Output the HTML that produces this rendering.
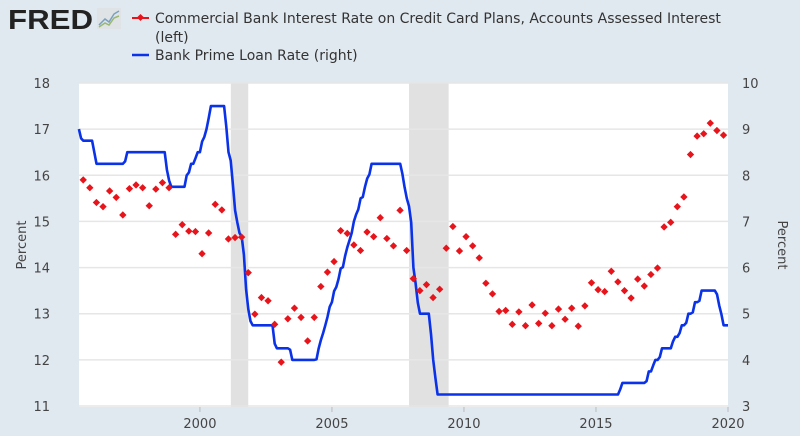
<!DOCTYPE html>
<html><head><meta charset="utf-8"><style>
body{margin:0;background:#e1e9f0;width:800px;height:436px;overflow:hidden;font-family:"DejaVu Sans","Liberation Sans",sans-serif}
svg{display:block}
</style></head><body>
<svg id="chart" width="800" height="436">
<rect x="0" y="0" width="800" height="436" fill="#e1e9f0"/>
<g>
<text x="8" y="29" font-family="Liberation Sans, sans-serif" font-weight="bold" font-size="28" fill="#222" textLength="85" lengthAdjust="spacingAndGlyphs">FRED</text>
<rect x="97" y="8" width="24" height="21" fill="#dfe3e6"/>
<polyline points="99,25 105,19 109,22 114,14 119,11" fill="none" stroke="#7aa0c0" stroke-width="1.5"/>
<polyline points="99,27 105,23 109,25 114,18 119,16" fill="none" stroke="#9ab870" stroke-width="1.5"/>
</g>
<g>
<line x1="132" y1="18" x2="149" y2="18" stroke="#e8141b" stroke-width="2"/>
<rect x="138" y="15" width="5" height="5" fill="#e8141b" transform="rotate(45 140.5 17.5)"/>
<text x="155" y="23" font-size="14" fill="#333">Commercial Bank Interest Rate on Credit Card Plans, Accounts Assessed Interest</text>
<text x="155" y="42" font-size="14" fill="#333">(left)</text>
<line x1="132" y1="55" x2="149" y2="55" stroke="#0a32e8" stroke-width="2.5"/>
<text x="155" y="60" font-size="14" fill="#333">Bank Prime Loan Rate (right)</text>
</g>
<rect x="79" y="83" width="649" height="324" fill="#fff"/>
<g id="rec"></g>
<g id="grid"></g>
<g id="axes"></g>
<text transform="translate(26,245) rotate(-90)" text-anchor="middle" font-size="13" fill="#444">Percent</text>
<text transform="translate(778,245) rotate(90)" text-anchor="middle" font-size="13" fill="#444">Percent</text>
<g id="series"></g>
</svg>
<script>
const ccStart = 1995.58;
const ccStep = 0.25;
const ccValues = [15.90,15.73,15.41,15.32,15.66,15.52,15.14,15.71,15.79,15.73,15.34,15.70,15.84,15.73,14.72,14.93,14.79,14.78,14.30,14.75,15.37,15.25,14.62,14.65,14.66,13.89,12.99,13.35,13.28,12.77,11.95,12.89,13.12,12.92,12.41,12.92,13.59,13.90,
14.13,14.80,14.74,14.49,14.37,14.77,14.67,15.08,14.63,14.47,15.24,14.37,13.76,13.50,13.63,13.35,13.53,14.42,14.89,14.36,14.67,14.47,14.21,13.66,13.43,13.05,13.07,12.77,13.04,12.74,13.19,12.79,13.01,12.74,13.10,12.88,13.12,12.73,13.17,13.67,
13.52,13.48,13.92,13.69,13.50,13.34,13.75,13.60,13.85,13.99,14.88,14.98,15.32,15.53,16.45,16.85,16.90,17.13,16.97,16.87];
const primeStart = 1995 + 5/12;
const primeValues = [9.00,8.80,8.75,8.75,8.75,8.75,8.75,
8.50,8.25,8.25,8.25,8.25,8.25,8.25,8.25,8.25,8.25,8.25,8.25,
8.25,8.25,8.30,8.50,8.50,8.50,8.50,8.50,8.50,8.50,8.50,8.50,
8.50,8.50,8.50,8.50,8.50,8.50,8.50,8.50,8.50,8.12,7.89,7.75,
7.75,7.75,7.75,7.75,7.75,7.75,8.00,8.06,8.25,8.25,8.37,8.50,
8.50,8.73,8.83,9.00,9.24,9.50,9.50,9.50,9.50,9.50,9.50,9.50,
9.05,8.50,8.32,7.80,7.24,6.98,6.75,6.67,6.28,5.53,5.10,4.84,
4.75,4.75,4.75,4.75,4.75,4.75,4.75,4.75,4.75,4.75,4.35,4.25,
4.25,4.25,4.25,4.25,4.25,4.22,4.00,4.00,4.00,4.00,4.00,4.00,
4.00,4.00,4.00,4.00,4.00,4.01,4.25,4.43,4.58,4.75,4.93,5.15,
5.25,5.49,5.58,5.75,5.98,6.01,6.25,6.44,6.59,6.75,7.00,7.15,
7.26,7.50,7.53,7.75,7.93,8.02,8.25,8.25,8.25,8.25,8.25,8.25,
8.25,8.25,8.25,8.25,8.25,8.25,8.25,8.25,8.03,7.74,7.50,7.33,
6.98,6.00,5.66,5.24,5.00,5.00,5.00,5.00,5.00,4.56,4.00,3.61,
3.25,3.25,3.25,3.25,3.25,3.25,3.25,3.25,3.25,3.25,3.25,3.25,
3.25,3.25,3.25,3.25,3.25,3.25,3.25,3.25,3.25,3.25,3.25,3.25,
3.25,3.25,3.25,3.25,3.25,3.25,3.25,3.25,3.25,3.25,3.25,3.25,
3.25,3.25,3.25,3.25,3.25,3.25,3.25,3.25,3.25,3.25,3.25,3.25,
3.25,3.25,3.25,3.25,3.25,3.25,3.25,3.25,3.25,3.25,3.25,3.25,
3.25,3.25,3.25,3.25,3.25,3.25,3.25,3.25,3.25,3.25,3.25,3.25,
3.25,3.25,3.25,3.25,3.25,3.25,3.25,3.25,3.25,3.25,3.25,3.36,
3.50,3.50,3.50,3.50,3.50,3.50,3.50,3.50,3.50,3.50,3.50,3.54,
3.75,3.75,3.88,4.00,4.00,4.06,4.25,4.25,4.25,4.25,4.25,4.40,
4.50,4.50,4.58,4.75,4.75,4.80,5.00,5.00,5.03,5.25,5.25,5.28,
5.50,5.50,5.50,5.50,5.50,5.50,5.50,5.42,5.18,4.99,4.75,4.75,
4.75];
const recessionStarts = [2001.17, 2007.92];
const recessionEnds = [2001.83, 2009.42];
const xTicks = [2000, 2005, 2010, 2015, 2020];
const leftTicks = [11,12,13,14,15,16,17,18];
const rightTicks = [3,4,5,6,7,8,9,10];

const X0=79, X1=728, Y0=406, Y1=83;
const xMin=1995.42, xMax=2020.0;
const xs = t => X0 + (t-xMin)/(xMax-xMin)*(X1-X0);
const yl = v => Y0 - (v-11)/(18-11)*(Y0-Y1);
const yr = v => Y0 - (v-3)/(10-3)*(Y0-Y1);
const NS='http://www.w3.org/2000/svg';
function mk(tag, attrs, parent){const e=document.createElementNS(NS,tag);for(const k in attrs)e.setAttribute(k,attrs[k]);parent.appendChild(e);return e;}

const rec=document.getElementById('rec');
recessionStarts.forEach((s,i)=>{
  const r=mk('rect',{x:xs(s),y:Y1,width:xs(recessionEnds[i])-xs(s),height:Y0-Y1+1,fill:'#e1e1e1'},rec);
  
  
});
const grid=document.getElementById('grid');
leftTicks.forEach(v=>{
  const l=mk('line',{x1:X0,x2:X1,y1:yl(v),y2:yl(v),stroke:'#e6e6e6','stroke-width':1.5},grid);
  
  
});
const axes=document.getElementById('axes');
leftTicks.forEach(v=>{
  const t=mk('text',{x:50,y:yl(v)+5,'text-anchor':'end','font-size':13,fill:'#444'},axes);
  t.textContent=v;
  
  
});
rightTicks.forEach(v=>{
  const t=mk('text',{x:742,y:yr(v)+5,'text-anchor':'start','font-size':13,fill:'#444'},axes);
  t.textContent=v;
  
  
});
xTicks.forEach(v=>{
  const t=mk('text',{x:xs(v),y:428,'text-anchor':'middle','font-size':13,fill:'#444'},axes);
  t.textContent=v;
  
  
  const k=mk('line',{x1:xs(v),x2:xs(v),y1:Y0+1,y2:Y0+6,stroke:'#bbb'},axes);
  
  
});
const ser=document.getElementById('series');
const pts=primeValues.map((v,i)=>xs(primeStart+i/12).toFixed(1)+','+yr(v).toFixed(1)).join(' ');
const pl=mk('polyline',{points:pts,fill:'none',stroke:'#0a32e8','stroke-width':2.6,'stroke-linejoin':'round'},ser);


ccValues.forEach((v,i)=>{
  const cx=xs(ccStart+i*ccStep), cy=yl(v);
  const d=mk('rect',{x:cx-2.6,y:cy-2.6,width:5.2,height:5.2,fill:'#e8141b',transform:`rotate(45 ${cx} ${cy})`},ser);
  
  
});
</script>
</body></html>
